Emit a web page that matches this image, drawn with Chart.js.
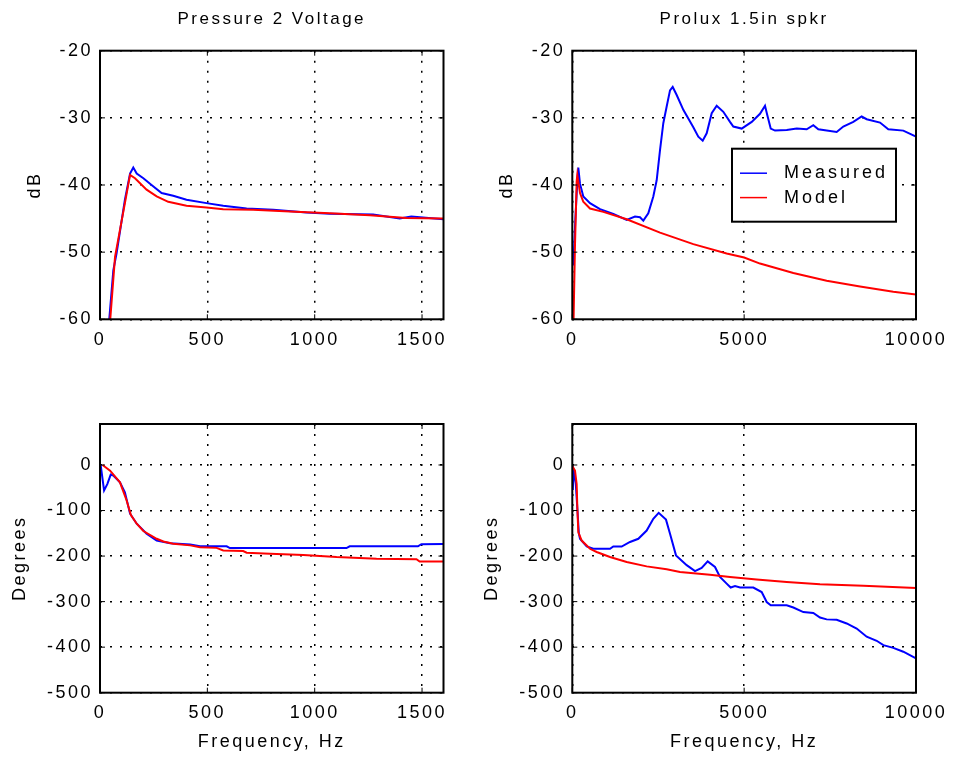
<!DOCTYPE html>
<html>
<head>
<meta charset="utf-8">
<script src="https://cdn.jsdelivr.net/npm/chart.js@4"></script>
<style>
  html, body { margin: 0; padding: 0; background: #fff; }
  #page { position: relative; width: 953px; height: 762px; overflow: hidden; }
  canvas { position: absolute; }
</style>
</head>
<body>
<div id="page">
  <canvas id="pressMag" width="476" height="381" style="left:0;top:0"></canvas>
  <canvas id="proluxMag" width="477" height="381" style="left:476px;top:0"></canvas>
  <canvas id="pressPhase" width="476" height="381" style="left:0;top:381px"></canvas>
  <canvas id="proluxPhase" width="477" height="381" style="left:476px;top:381px"></canvas>
</div>
<script>
// --- Pressure 2 Voltage, magnitude (dB) ---
const pressMagMeasF = [38, 62, 77, 116, 140, 155, 171, 202, 240, 287, 341, 403, 496, 574, 683, 807, 962, 1071, 1272, 1396, 1450, 1600];
const pressMagMeasV = [-62, -52.7, -50.2, -42.2, -38.3, -37.4, -38.3, -39.0, -40.0, -41.2, -41.6, -42.2, -42.7, -43.1, -43.5, -43.7, -44.1, -44.3, -44.4, -45.0, -44.7, -45.1];
const pressMagModelF = [43, 70, 116, 140, 163, 217, 264, 318, 403, 496, 574, 713, 884, 1071, 1257, 1427, 1600];
const pressMagModelV = [-62, -50.7, -42.7, -38.5, -39.0, -40.7, -41.7, -42.5, -43.1, -43.35, -43.6, -43.7, -43.95, -44.2, -44.5, -44.9, -45.0];

// --- Prolux 1.5in spkr, magnitude (dB) ---
const proluxMagMeasF = [30, 90, 150, 175, 224, 320, 515, 806, 1193, 1582, 1824, 1970, 2066, 2211, 2357, 2455, 2552, 2648, 2746, 2843, 2921, 3037, 3230, 3521, 3666, 3794, 3910, 4056, 4201, 4394, 4588, 4685, 4929, 5220, 5461, 5607, 5674, 5773, 5898, 6238, 6529, 6820, 7012, 7158, 7692, 7885, 8176, 8419, 8565, 8953, 9194, 9631, 10000];
const proluxMagMeasV = [-52, -45, -39, -37.4, -39.8, -41.7, -42.7, -43.6, -44.3, -45.2, -44.7, -44.8, -45.3, -44.2, -41.7, -39.3, -34.8, -30.8, -28.3, -25.9, -25.4, -26.6, -28.8, -31.4, -32.8, -33.4, -32.3, -29.3, -28.2, -29.1, -30.6, -31.3, -31.6, -30.6, -29.4, -28.2, -29.6, -31.6, -31.9, -31.8, -31.6, -31.7, -31.1, -31.7, -32.1, -31.3, -30.6, -29.8, -30.2, -30.7, -31.7, -31.9, -32.8];
const proluxMagModelF = [30, 78, 127, 146, 224, 320, 515, 903, 1582, 2552, 3521, 4491, 5000, 5461, 6431, 7401, 8371, 9340, 10000];
const proluxMagModelV = [-62, -49, -39.5, -38.5, -41.2, -42.5, -43.5, -44.0, -45.1, -47.1, -48.8, -50.2, -50.8, -51.7, -53.1, -54.25, -55.1, -55.9, -56.3];

// --- Pressure 2 Voltage, phase (degrees) ---
const pressPhaseMeasF = [3, 19, 34, 50, 62, 93, 116, 140, 171, 217, 264, 327, 420, 466, 590, 605, 1148, 1163, 1481, 1497, 1600];
const pressPhaseMeasV = [0, -56, -42, -21, -23, -38, -60, -107, -129, -151, -166, -172, -174.5, -178.5, -178.5, -182.5, -182.5, -178.5, -178.5, -173.8, -173.5];
const pressPhaseModelF = [12, 47, 93, 124, 144, 171, 202, 264, 295, 341, 420, 466, 543, 574, 667, 683, 792, 947, 1102, 1288, 1474, 1489, 1600];
const pressPhaseModelV = [0, -12.5, -38, -78, -110, -129, -145, -162, -168, -173, -176.5, -180.5, -182, -187.6, -189, -192.7, -194.9, -197.5, -202.3, -206, -206.8, -212, -212];

// --- Prolux 1.5in spkr, phase (degrees) ---
const proluxPhaseMeasF = [0, 15, 40, 100, 150, 190, 224, 419, 611, 1097, 1193, 1436, 1679, 1921, 2164, 2357, 2513, 2726, 2843, 3017, 3328, 3570, 3764, 3939, 4152, 4297, 4491, 4608, 4735, 4880, 5267, 5510, 5656, 5773, 6238, 6431, 6722, 7012, 7207, 7401, 7692, 7983, 8274, 8565, 8856, 9050, 9340, 9631, 10000];
const proluxPhaseMeasV = [-2, -55, -10, -40, -100, -150, -162, -179, -184, -184, -179, -179, -169, -162, -144, -118, -105, -120, -151, -198.5, -220, -233, -226, -211.7, -224, -246, -260.5, -269, -266, -269, -269, -279, -301, -308, -308, -313, -323, -325, -335, -339, -340, -348, -359, -377, -386, -395.6, -401.5, -410, -424.7];
const proluxPhaseModelF = [0, 78, 127, 146, 175, 272, 515, 709, 1097, 1582, 2164, 2746, 3134, 4006, 4588, 5364, 6238, 7207, 8468, 10000];
const proluxPhaseModelV = [-2, -12.5, -42, -93, -147.5, -166, -184, -191, -202, -213, -222.6, -229, -235, -240.8, -246, -251.7, -257, -262, -265, -270];

const seriesNames = ['Measured', 'Model'];
const seriesColors = ['#0000ff', '#ff0000'];
const titles = ['Pressure 2 Voltage', 'Prolux 1.5in spkr'];

// axis limits and tick labels
const magRange = [-60, -20];
const magTicks = [-60, -50, -40, -30, -20];
const phaseRange = [-500, 90];
const phaseTicks = [-500, -400, -300, -200, -100, 0];
const leftFreqMax = 1600;
const leftFreqTicks = [0, 500, 1000, 1500];
const rightFreqMax = 10000;
const rightFreqTicks = [0, 5000, 10000];

const FONT = "'Liberation Sans', Arial, Helvetica, sans-serif";
Chart.defaults.font.family = FONT;
Chart.defaults.font.size = 18;
Chart.defaults.color = '#000';

function pts(f, v) {
    return f.map((x, i) => ({ x, y: v[i] }));
}

function fixedTicks(list) {
    return (scale) => {
        scale.ticks = list.map((value) => ({ value }));
    };
}

// black frame + inward tick marks, matlab style
const boxPlugin = {
    id: 'matlabBox',
    beforeDraw(chart) {
        chart.ctx.letterSpacing = '2.5px';
    },
    afterDraw(chart) {
        const { ctx, chartArea: a, scales } = chart;
        ctx.save();
        ctx.setLineDash([]);
        ctx.strokeStyle = '#000';
        ctx.lineWidth = 1;
        ctx.beginPath();
        scales.x.ticks.forEach((t) => {
            const px = scales.x.getPixelForValue(t.value);
            ctx.moveTo(px, a.bottom);
            ctx.lineTo(px, a.bottom - 5);
            ctx.moveTo(px, a.top);
            ctx.lineTo(px, a.top + 5);
        });
        scales.y.ticks.forEach((t) => {
            const py = scales.y.getPixelForValue(t.value);
            ctx.moveTo(a.left, py);
            ctx.lineTo(a.left + 5, py);
            ctx.moveTo(a.right, py);
            ctx.lineTo(a.right - 5, py);
        });
        ctx.stroke();
        ctx.lineWidth = 2;
        ctx.strokeRect(a.left, a.top, a.right - a.left, a.bottom - a.top);
        ctx.restore();
    },
};

const insetLegend = {
    id: 'insetLegend',
    afterDraw(chart) {
        const { ctx, chartArea: a } = chart;
        const w = 164;
        const h = 73;
        const x0 = a.right - 20 - w;
        const y0 = a.top + 98;
        ctx.save();
        ctx.letterSpacing = '3px';
        ctx.fillStyle = '#fff';
        ctx.fillRect(x0, y0, w, h);
        ctx.strokeStyle = '#000';
        ctx.lineWidth = 2;
        ctx.strokeRect(x0, y0, w, h);
        ctx.font = `18px ${FONT}`;
        ctx.textBaseline = 'middle';
        chart.data.datasets.forEach((ds, i) => {
            const y = y0 + 24.5 + i * 24.4;
            ctx.strokeStyle = ds.borderColor;
            ctx.lineWidth = 1.5;
            ctx.beginPath();
            ctx.moveTo(x0 + 8, y);
            ctx.lineTo(x0 + 35, y);
            ctx.stroke();
            ctx.fillStyle = '#000';
            ctx.fillText(ds.label, x0 + 52, y);
        });
        ctx.restore();
    },
};

function panel(cfg) {
    const plugins = [boxPlugin];
    if (cfg.legend) plugins.push(insetLegend);
    return new Chart(document.getElementById(cfg.id), {
        type: 'line',
        data: {
            datasets: [
                {
                    label: seriesNames[0],
                    data: pts(cfg.measF, cfg.measV),
                    borderColor: seriesColors[0],
                    order: 2,
                },
                {
                    label: seriesNames[1],
                    data: pts(cfg.modelF, cfg.modelV),
                    borderColor: seriesColors[1],
                    order: 1,
                },
            ],
        },
        options: {
            responsive: false,
            animation: false,
            events: [],
            elements: {
                point: { radius: 0 },
                line: { borderWidth: 2, tension: 0 },
            },
            layout: { padding: { top: cfg.padTop, right: cfg.padRight, left: 0, bottom: 0 } },
            plugins: {
                legend: { display: false },
                tooltip: { enabled: false },
                title: cfg.title
                    ? {
                          display: true,
                          text: cfg.title,
                          fullSize: false,
                          color: '#000',
                          font: { size: 17, weight: 'normal' },
                          padding: { top: 8.8, bottom: 21.5 },
                      }
                    : { display: false },
            },
            scales: {
                x: {
                    type: 'linear',
                    min: 0,
                    max: cfg.freqMax,
                    afterBuildTicks: fixedTicks(cfg.freqTicks),
                    afterFit(s) {
                        s.height = cfg.xAxisH;
                    },
                    ticks: {
                        autoSkip: false,
                        maxRotation: 0,
                        padding: 10,
                        callback: (v) => String(v),
                    },
                    grid: { color: '#000', lineWidth: 1.5, drawTicks: false },
                    border: { display: false, dash: [2, 8] },
                    title: cfg.xTitle
                        ? { display: true, text: cfg.xTitle, padding: { top: 0, bottom: 9.2 } }
                        : { display: false },
                },
                y: {
                    min: cfg.yRange[0],
                    max: cfg.yRange[1],
                    afterBuildTicks: fixedTicks(cfg.yTicks),
                    afterFit(s) {
                        s.width = cfg.yAxisW;
                    },
                    ticks: {
                        autoSkip: false,
                        padding: 7,
                        callback: (v) => String(v),
                    },
                    grid: { color: '#000', lineWidth: 1.5, drawTicks: false },
                    border: { display: false, dash: [2, 8] },
                    title: { display: true, text: cfg.yTitle, padding: { top: cfg.yTitlePad, bottom: 0 } },
                },
            },
        },
        plugins,
    });
}

panel({
    id: 'pressMag', title: titles[0], measF: pressMagMeasF, measV: pressMagMeasV,
    modelF: pressMagModelF, modelV: pressMagModelV, freqMax: leftFreqMax, freqTicks: leftFreqTicks,
    yRange: magRange, yTicks: magTicks,
    yTitle: 'dB', yTitlePad: 24.2, yAxisW: 100, xAxisH: 61.7, padTop: 0, padRight: 32.5,
});
panel({
    id: 'proluxMag', title: titles[1], measF: proluxMagMeasF, measV: proluxMagMeasV,
    modelF: proluxMagModelF, modelV: proluxMagModelV, freqMax: rightFreqMax, freqTicks: rightFreqTicks,
    yRange: magRange, yTicks: magTicks,
    yTitle: 'dB', yTitlePad: 20.2, yAxisW: 96.3, xAxisH: 61.7, padTop: 0, padRight: 37, legend: true,
});
panel({
    id: 'pressPhase', measF: pressPhaseMeasF, measV: pressPhaseMeasV,
    modelF: pressPhaseModelF, modelV: pressPhaseModelV, freqMax: leftFreqMax, freqTicks: leftFreqTicks,
    yRange: phaseRange, yTicks: phaseTicks,
    yTitle: 'Degrees', yTitlePad: 9.2, yAxisW: 100, xAxisH: 69.3, padTop: 43, padRight: 32.5,
    xTitle: 'Frequency, Hz',
});
panel({
    id: 'proluxPhase', measF: proluxPhaseMeasF, measV: proluxPhaseMeasV,
    modelF: proluxPhaseModelF, modelV: proluxPhaseModelV, freqMax: rightFreqMax, freqTicks: rightFreqTicks,
    yRange: phaseRange, yTicks: phaseTicks,
    yTitle: 'Degrees', yTitlePad: 5.7, yAxisW: 96.3, xAxisH: 69.3, padTop: 43, padRight: 37,
    xTitle: 'Frequency, Hz',
});
</script>
</body>
</html>
